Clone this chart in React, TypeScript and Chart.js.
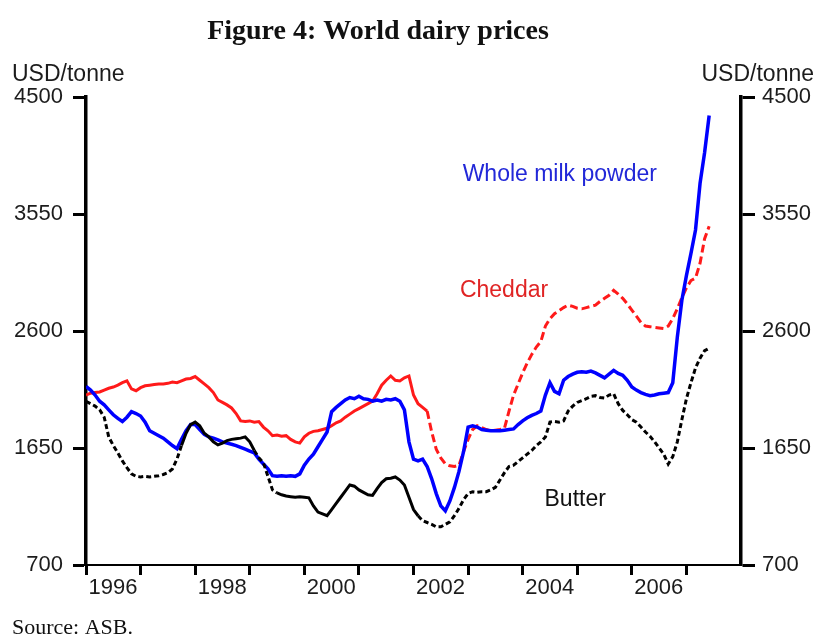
import React, { useEffect, useRef } from 'react';
import { Chart, registerables } from 'chart.js';

Chart.register(...registerables);

// ---------- data ----------
const START_YEAR = 1996;
const MONTH_COUNT = 138; // Jan 1996 .. Jun 2007
const months: string[] = Array.from({ length: MONTH_COUNT }, (_, i) =>
  `${START_YEAR + Math.floor(i / 12)}-${String((i % 12) + 1).padStart(2, '0')}`
);

const xTickYears = [1996, 1997, 1998, 1999, 2000, 2001, 2002, 2003, 2004, 2005, 2006, 2007];
const xLabelYears = [1996, 1998, 2000, 2002, 2004, 2006];
const yTicks = [700, 1650, 2600, 3550, 4500];

const wholeMilkPowder = [
  2150, 2120, 2080, 2030, 2000, 1960, 1920, 1890, 1865, 1900, 1945, 1930,
  1910, 1860, 1790, 1770, 1750, 1730, 1700, 1670, 1645, 1720, 1790, 1840,
  1840, 1800, 1760, 1740, 1730, 1715, 1700, 1690, 1680, 1670, 1655, 1640,
  1625, 1610, 1560, 1520, 1480, 1425, 1420, 1425, 1420, 1425, 1420, 1440,
  1510, 1560, 1600, 1660, 1720, 1780, 1945, 1980, 2010, 2040, 2060, 2050,
  2070, 2050, 2045, 2030, 2040, 2030, 2045, 2040, 2050, 2030, 1960, 1700,
  1560, 1545, 1560, 1500, 1400, 1280, 1180, 1140, 1220, 1330, 1460, 1620,
  1820, 1830, 1820, 1800, 1795, 1790, 1790, 1790, 1795, 1800, 1805, 1840,
  1870, 1895, 1915, 1930, 1950, 2080, 2180, 2110, 2090, 2200, 2230, 2250,
  2265, 2270, 2265, 2275, 2260, 2240, 2220, 2250, 2280, 2255, 2240, 2200,
  2145, 2120, 2100, 2085, 2075, 2080, 2090, 2095, 2100, 2180, 2550, 2850,
  3050, 3230, 3420, 3800, 4050, 4350,
];

const cheddar = [
  2080, 2095, 2100, 2105, 2120, 2135, 2145, 2160, 2180, 2195, 2130, 2115,
  2140, 2155, 2160, 2165, 2170, 2170, 2175, 2185, 2180, 2195, 2210, 2215,
  2230, 2200, 2170, 2140, 2100, 2040, 2020, 2000, 1975, 1930, 1870, 1865,
  1870, 1860, 1865, 1820, 1790, 1750, 1755, 1745, 1750, 1720, 1700, 1690,
  1740, 1770, 1785, 1790, 1800, 1810, 1830, 1855, 1870, 1900, 1925, 1950,
  1970, 1990, 2010, 2030, 2090, 2160, 2200, 2235, 2200, 2195, 2220, 2235,
  2080, 2010, 1980, 1950, 1780, 1640, 1570, 1520, 1505, 1500, 1510, 1620,
  1720, 1800, 1830, 1815, 1800, 1790, 1795, 1800, 1810, 1950, 2080, 2170,
  2260, 2340, 2410, 2470, 2515, 2640, 2700, 2740, 2765, 2790, 2810, 2800,
  2785, 2780, 2790, 2800, 2810, 2840, 2865, 2890, 2930, 2900, 2865, 2820,
  2770, 2720, 2670, 2640, 2635, 2630, 2625, 2620, 2640, 2700, 2780, 2870,
  2950, 3010, 3030, 3150, 3350, 3450,
];

const butter = [
  2030, 2010, 1990, 1960, 1900, 1740, 1670, 1610, 1545, 1490, 1440, 1420,
  1415, 1420, 1415, 1420, 1425, 1435, 1450, 1480, 1560, 1670, 1770, 1840,
  1860, 1830, 1770, 1740, 1700, 1675, 1690, 1710, 1720, 1725, 1730, 1740,
  1700, 1630, 1570, 1530, 1420, 1310, 1285, 1270, 1260, 1255, 1250, 1255,
  1250, 1245, 1180, 1130, 1115, 1100, 1150, 1200, 1250, 1300, 1350, 1340,
  1310, 1290, 1270, 1265, 1320, 1370, 1400, 1405, 1415, 1390, 1350, 1250,
  1150, 1100, 1060, 1045, 1030, 1010, 1010, 1030, 1050, 1100, 1160, 1230,
  1280, 1295, 1290, 1295, 1295, 1310, 1330, 1390, 1450, 1500, 1510, 1540,
  1570, 1600, 1630, 1670, 1700, 1740, 1860, 1865, 1860, 1870, 1950, 1990,
  2020, 2035, 2050, 2070, 2075, 2060, 2055, 2080, 2090, 2010, 1955, 1920,
  1880, 1860, 1820, 1780, 1745, 1700, 1650, 1600, 1520, 1580, 1700, 1880,
  2050, 2180, 2300, 2380, 2440, 2460,
];

const TITLE = 'Figure 4: World dairy prices';
const UNIT = 'USD/tonne';
const SOURCE = 'Source: ASB.';

// ---------- helpers ----------
const monthToYear = (m: string) => {
  const [yy, mm] = m.split('-').map(Number);
  return yy + (mm - 1) / 12;
};
const toPoints = (vals: number[]) => vals.map((v, i) => ({ x: monthToYear(months[i]), y: v }));

const SANS = '"Liberation Sans", Arial, Helvetica, sans-serif';
const SERIF = '"Liberation Serif", "Times New Roman", serif';
const TEXT = '#1c1c1c';

const textPlugin = {
  id: 'figureTexts',
  afterDraw(chart: any) {
    const { ctx } = chart;
    const x = chart.scales.x;
    const y = chart.scales.y;
    ctx.save();
    ctx.textBaseline = 'alphabetic';

    ctx.fillStyle = '#111';
    ctx.font = `bold 28px ${SERIF}`;
    ctx.textAlign = 'center';
    ctx.fillText(TITLE, 378, 39);

    ctx.fillStyle = TEXT;
    ctx.font = `23px ${SANS}`;
    ctx.textAlign = 'left';
    ctx.fillText(UNIT, 12, 81);
    ctx.textAlign = 'right';
    ctx.fillText(UNIT, 814, 81);

    ctx.font = `22px ${SERIF}`;
    ctx.textAlign = 'left';
    ctx.fillStyle = '#111';
    ctx.fillText(SOURCE, 12, 634);

    ctx.font = `23px ${SANS}`;
    ctx.textAlign = 'left';
    ctx.fillStyle = '#2228d8';
    ctx.fillText('Whole milk powder', x.getPixelForValue(2002.9), y.getPixelForValue(3818));
    ctx.fillStyle = '#e02424';
    ctx.fillText('Cheddar', x.getPixelForValue(2002.85), y.getPixelForValue(2876));
    ctx.fillStyle = '#111';
    ctx.fillText('Butter', x.getPixelForValue(2004.4), y.getPixelForValue(1179));
    ctx.restore();
  },
};

export default function App() {
  const ref = useRef<HTMLCanvasElement | null>(null);

  useEffect(() => {
    if (!ref.current) return;
    const tickFont = { family: SANS, size: 22 };
    const yCommon = (pos: 'left' | 'right') => ({
      type: 'linear' as const,
      position: pos,
      min: 700,
      max: 4500,
      afterBuildTicks: (s: any) => {
        s.ticks = yTicks.map((v) => ({ value: v }));
      },
      afterFit: (s: any) => {
        s.width = pos === 'left' ? 86 : 77;
      },
      ticks: {
        font: tickFont,
        color: TEXT,
        padding: pos === 'left' ? 10 : 7,
        callback: (v: any) => String(v),
      },
      grid: {
        drawOnChartArea: false,
        drawTicks: true,
        tickLength: pos === 'left' ? 13 : 14,
        tickWidth: 3,
        tickColor: '#000',
      },
      border: { display: true, color: '#000', width: 3.5 },
    });

    const chart = new Chart(ref.current, {
      type: 'line',
      data: {
        datasets: [
          {
            label: 'Butter',
            data: toPoints(butter),
            borderColor: '#000000',
            borderWidth: 3,
            pointRadius: 0,
            segment: {
              borderDash: (c: any) => {
                const i = c.p0DataIndex;
                return i < 21 || (i >= 37 && i < 42) || i >= 73 ? [5, 3] : [];
              },
            },
          },
          {
            label: 'Whole milk powder',
            data: toPoints(wholeMilkPowder),
            borderColor: '#0000ff',
            borderWidth: 3.5,
            pointRadius: 0,
          },
          {
            label: 'Cheddar',
            data: toPoints(cheddar),
            borderColor: '#ff1a1a',
            borderWidth: 3,
            pointRadius: 0,
            segment: {
              borderDash: (c: any) => (c.p0DataIndex >= 75 ? [8, 4] : []),
            },
          },
        ],
      },
      options: {
        animation: false,
        responsive: false,
        layout: { padding: { top: 97, left: 0, right: 0, bottom: 0 } },
        plugins: { legend: { display: false }, tooltip: { enabled: false } },
        elements: { line: { tension: 0 } },
        scales: {
          x: {
            type: 'linear',
            position: 'bottom',
            min: 1996,
            max: 2008,
            afterBuildTicks: (s: any) => {
              s.ticks = xTickYears.map((v) => ({ value: v }));
            },
            afterFit: (s: any) => {
              s.height = 76;
            },
            ticks: {
              autoSkip: false,
              maxRotation: 0,
              labelOffset: 27,
              padding: 0,
              font: tickFont,
              color: TEXT,
              callback: (v: any) => (xLabelYears.includes(Number(v)) ? String(v) : ''),
            },
            grid: {
              drawOnChartArea: false,
              drawTicks: true,
              tickLength: 10,
              tickWidth: 3,
              tickColor: '#000',
            },
            border: { display: true, color: '#000', width: 2 },
          },
          y: yCommon('left'),
          y2: yCommon('right'),
        },
      },
      plugins: [textPlugin],
    });
    return () => chart.destroy();
  }, []);

  return (
    <div style={{ position: 'absolute', left: 0, top: 0, width: 818, height: 641, background: '#fff' }}>
      <canvas ref={ref} width={818} height={641} style={{ display: 'block' }} />
    </div>
  );
}
